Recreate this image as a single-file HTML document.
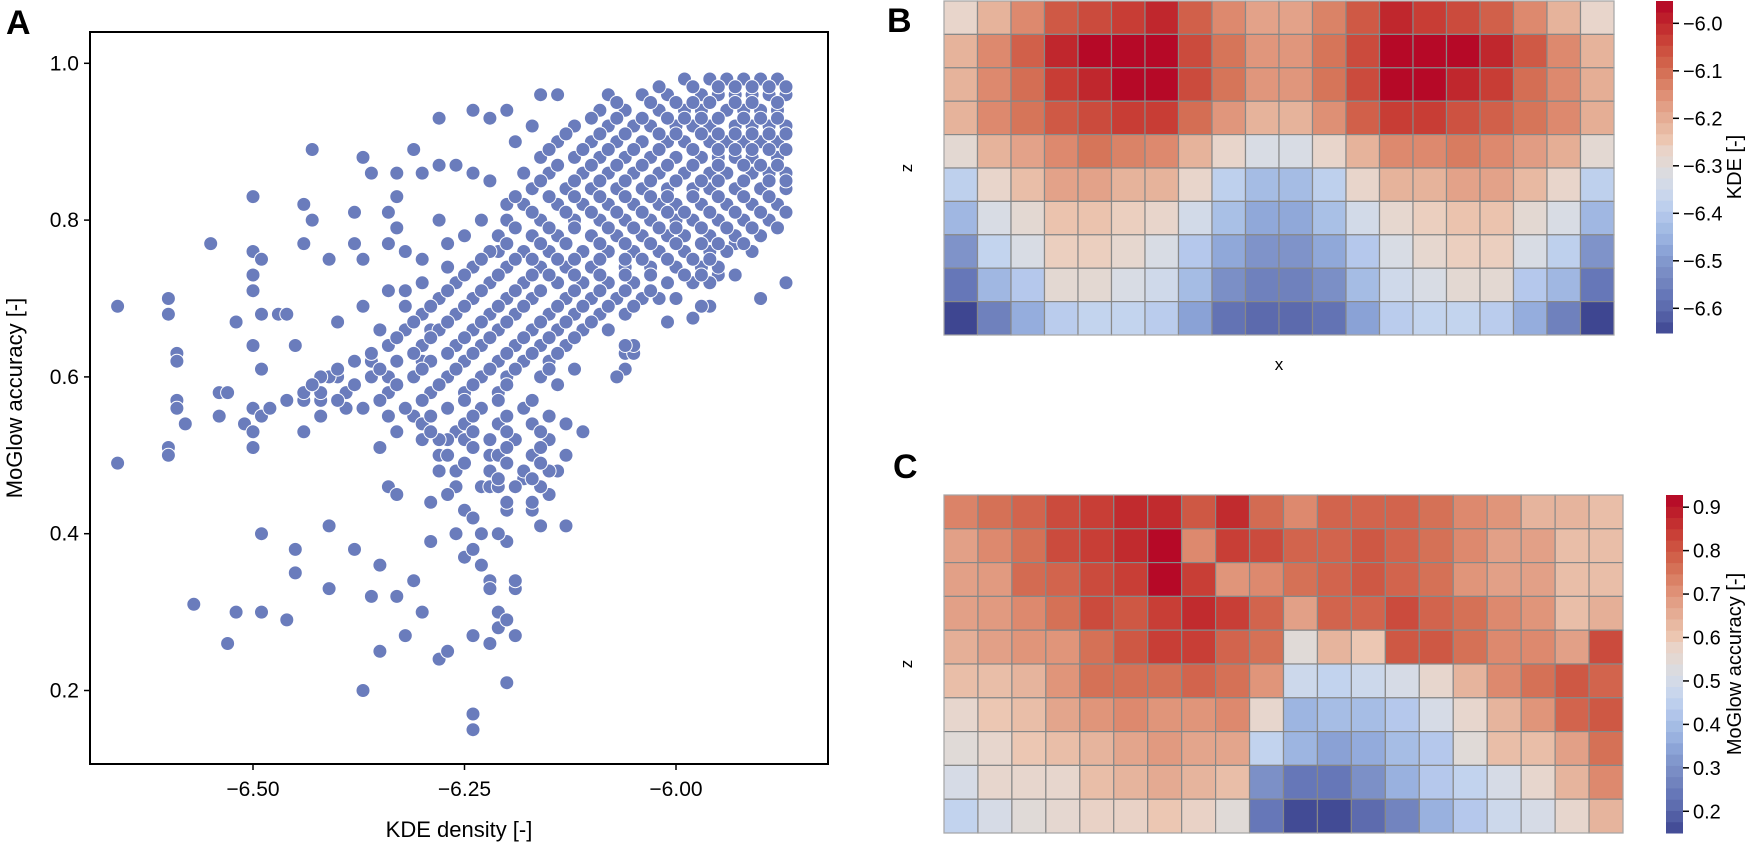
<!DOCTYPE html>
<html><head><meta charset="utf-8"><style>
html,body{margin:0;padding:0;background:#fff;}
svg{display:block;font-family:"Liberation Sans",Arial,sans-serif;}
</style></head><body>
<svg id="fig" width="1750" height="843" viewBox="0 0 1750 843" xmlns="http://www.w3.org/2000/svg">
<text x="6" y="34" font-size="34" font-weight="bold">A</text>
<text x="887" y="32" font-size="34" font-weight="bold">B</text>
<text x="893" y="478" font-size="34" font-weight="bold">C</text>
<g id="scatter"></g>
<g id="heatB"></g>
<g id="heatC"></g>
</svg>
<script>
// ---------- Scatter data ----------
const sparseKde=[-6.66,-6.66,-6.60,-6.60,-6.59,-6.59,-6.60,-6.60,-6.59,-6.59,-6.58,-6.57,-6.55,-6.54,-6.53,-6.54,-6.53,-6.52,-6.52,-6.51,-6.50,-6.50,-6.49,-6.50,-6.50,-6.49,-6.50,-6.49,-6.50,-6.49,-6.50,-6.50,-6.49,-6.49,-6.48,-6.47,-6.46,-6.46,-6.45,-6.45,-6.44,-6.44,-6.43,-6.43,-6.44,-6.45,-6.42,-6.42,-6.41,-6.41,-6.41,-6.40,-6.39,-6.39,-6.38,-6.38,-6.37,-6.37,-6.37,-6.36,-6.36,-6.38,-6.37,-6.35,-6.34,-6.33,-6.33,-6.33,-6.34,-6.32,-6.32,-6.34,-6.35,-6.35,-6.33,-6.32,-6.30,-6.31,-6.31,-6.30,-6.30,-6.31,-6.30,-6.28,-6.28,-6.28,-6.27,-6.29,-6.29,-6.28,-6.27,-6.26,-6.25,-6.25,-6.24,-6.24,-6.24,-6.23,-6.22,-6.22,-6.21,-6.21,-6.20,-6.20,-6.21,-6.19,-6.19,-6.19,-6.20,-6.22,-6.26,-6.23,-6.22,-6.26,-6.27,-6.29,-6.31,-6.33,-6.34,-6.35,-6.34,-6.33,
-6.14,-6.12,-6.11,-6.13,-6.14,-6.15,-6.17,-6.16,-6.13,-6.18,-6.19,-6.06,-6.06,-6.07,-6.26,-6.27,-6.24,-6.23,-6.21,-6.20,-6.24,-6.22,-6.25,-6.28,-6.30,-6.28,
-5.87,-5.90,-5.96,-5.97,-6.01,-5.95,-5.93,-5.93,-6.05,-6.05,-5.98,-6.00,
-6.24,-6.22,-6.20,-6.19,-6.16,-6.14,-6.17,-6.08,-6.10,-6.26,-6.24,-6.22,-6.18,-6.20,-6.23,-6.25,-6.27,-6.21,-6.24,-6.26,-6.28,-6.30,-6.32,-6.29,-6.35,-6.38,-6.40,-6.42,-6.44,-6.46,-6.41,-6.36,-6.34,-6.30];
const sparseAcc=[0.69,0.49,0.68,0.70,0.63,0.62,0.51,0.50,0.57,0.56,0.54,0.31,0.77,0.58,0.58,0.55,0.26,0.30,0.67,0.54,0.83,0.76,0.75,0.73,0.71,0.68,0.64,0.61,0.56,0.55,0.53,0.51,0.40,0.30,0.56,0.68,0.68,0.29,0.38,0.35,0.77,0.82,0.89,0.80,0.53,0.64,0.57,0.55,0.75,0.41,0.33,0.67,0.56,0.58,0.81,0.77,0.75,0.69,0.88,0.86,0.32,0.38,0.20,0.25,0.81,0.86,0.83,0.79,0.77,0.76,0.71,0.71,0.57,0.36,0.32,0.27,0.30,0.34,0.89,0.86,0.75,0.67,0.64,0.87,0.80,0.93,0.74,0.39,0.44,0.24,0.25,0.40,0.43,0.37,0.27,0.17,0.15,0.36,0.34,0.33,0.30,0.28,0.21,0.39,0.40,0.27,0.33,0.34,0.29,0.26,0.48,0.46,0.46,0.53,0.52,0.53,0.55,0.53,0.55,0.51,0.46,0.45,
0.59,0.61,0.53,0.50,0.48,0.45,0.43,0.41,0.41,0.47,0.52,0.63,0.61,0.60,0.46,0.45,0.42,0.40,0.46,0.43,0.38,0.50,0.52,0.50,0.52,0.48,
0.72,0.70,0.69,0.69,0.67,0.73,0.77,0.73,0.63,0.64,0.675,0.70,
0.94,0.93,0.94,0.90,0.96,0.96,0.92,0.96,0.93,0.87,0.86,0.85,0.86,0.82,0.80,0.78,0.77,0.76,0.74,0.72,0.70,0.72,0.69,0.66,0.66,0.62,0.60,0.58,0.57,0.57,0.60,0.62,0.60,0.62];
const denseAcc=[0.98,0.96,0.94,0.92,0.90,0.88,0.86,0.84,0.82,0.80,0.78,0.76,0.74,0.72,0.70,0.68,0.66,0.64,0.62,0.60,0.58,0.56,0.54,0.52,0.50,0.48,0.46,0.44];
const denseKde=[
[-5.99,-5.96,-5.94,-5.92,-5.90,-5.88],
[-6.04,-6.01,-5.97,-5.95,-5.93,-5.91,-5.89,-5.87],
[-6.09,-6.06,-6.02,-5.99,-5.97,-5.94,-5.92,-5.90,-5.88],
[-6.12,-6.08,-6.05,-6.03,-6.00,-5.98,-5.96,-5.93,-5.91,-5.89,-5.87],
[-6.14,-6.10,-6.07,-6.04,-6.01,-5.99,-5.96,-5.94,-5.92,-5.90,-5.88],
[-6.16,-6.12,-6.09,-6.06,-6.03,-6.00,-5.97,-5.95,-5.93,-5.91,-5.88],
[-6.15,-6.11,-6.08,-6.05,-6.02,-5.99,-5.96,-5.94,-5.91,-5.89,-5.87],
[-6.17,-6.13,-6.10,-6.07,-6.04,-6.01,-5.98,-5.96,-5.93,-5.90,-5.87],
[-6.18,-6.14,-6.11,-6.08,-6.05,-6.02,-6.00,-5.97,-5.94,-5.91,-5.88],
[-6.20,-6.16,-6.12,-6.09,-6.06,-6.03,-6.00,-5.98,-5.95,-5.92,-5.89],
[-6.21,-6.17,-6.14,-6.10,-6.07,-6.04,-6.01,-5.99,-5.96,-5.93,-5.90],
[-6.22,-6.18,-6.15,-6.11,-6.08,-6.05,-6.02,-5.99,-5.96,-5.94,-5.91],
[-6.24,-6.20,-6.16,-6.13,-6.10,-6.06,-6.03,-6.00,-5.97,-5.95],
[-6.26,-6.22,-6.18,-6.14,-6.11,-6.08,-6.05,-6.01,-5.98,-5.96],
[-6.28,-6.24,-6.20,-6.17,-6.13,-6.10,-6.07,-6.04,-6.02],
[-6.30,-6.26,-6.22,-6.19,-6.15,-6.12,-6.09,-6.06],
[-6.32,-6.28,-6.24,-6.21,-6.17,-6.14,-6.11,-6.08],
[-6.34,-6.30,-6.26,-6.23,-6.19,-6.16,-6.13,-6.06],
[-6.38,-6.33,-6.29,-6.25,-6.21,-6.18,-6.15],
[-6.42,-6.36,-6.31,-6.27,-6.23,-6.20,-6.16],
[-6.44,-6.39,-6.34,-6.29,-6.25,-6.21],
[-6.37,-6.32,-6.27,-6.23,-6.18],
[-6.30,-6.25,-6.21,-6.17,-6.13],
[-6.28,-6.22,-6.19,-6.15],
[-6.27,-6.21,-6.17,-6.13],
[-6.22,-6.18,-6.15],
[-6.19,-6.16],
[-6.20,-6.17]];
const fillAcc=[0.97,0.95,0.93,0.91,0.89,0.87,0.85,0.83,0.81,0.79,0.77,0.75,0.73,0.71,0.69,0.67,0.65,0.63,0.61,0.59,0.57,0.55,0.53,0.51,0.49,0.47];
const fillKde=[
[-6.02,-5.98,-5.95,-5.93,-5.91,-5.89,-5.87],
[-6.07,-6.03,-6.00,-5.98,-5.96,-5.93,-5.91,-5.88],
[-6.10,-6.07,-6.04,-6.01,-5.99,-5.97,-5.95,-5.92,-5.90,-5.88],
[-6.13,-6.09,-6.06,-6.02,-6.00,-5.97,-5.95,-5.93,-5.91,-5.89,-5.87],
[-6.15,-6.11,-6.08,-6.05,-6.02,-5.98,-5.95,-5.93,-5.91,-5.89,-5.87],
[-6.14,-6.10,-6.07,-6.04,-6.01,-5.98,-5.95,-5.92,-5.90,-5.88],
[-6.16,-6.12,-6.09,-6.06,-6.03,-6.00,-5.97,-5.95,-5.92,-5.89,-5.87],
[-6.19,-6.15,-6.12,-6.09,-6.06,-6.03,-6.01,-5.98,-5.95,-5.92,-5.89],
[-6.17,-6.13,-6.10,-6.07,-6.04,-6.01,-5.99,-5.96,-5.93,-5.90,-5.87],
[-6.19,-6.15,-6.12,-6.08,-6.05,-6.02,-6.00,-5.97,-5.94,-5.91,-5.88],
[-6.20,-6.16,-6.13,-6.09,-6.06,-6.03,-6.00,-5.97,-5.95,-5.92],
[-6.23,-6.19,-6.17,-6.14,-6.12,-6.09,-6.06,-6.04,-6.01,-5.98,-5.96],
[-6.25,-6.21,-6.17,-6.15,-6.12,-6.09,-6.06,-6.03,-5.99,-5.97],
[-6.27,-6.23,-6.19,-6.16,-6.12,-6.09,-6.06,-6.03],
[-6.29,-6.25,-6.21,-6.18,-6.14,-6.11,-6.08,-6.05],
[-6.31,-6.27,-6.23,-6.20,-6.16,-6.13,-6.10],
[-6.33,-6.29,-6.25,-6.22,-6.18,-6.15,-6.12],
[-6.36,-6.31,-6.27,-6.24,-6.20,-6.17,-6.14],
[-6.40,-6.35,-6.30,-6.26,-6.22,-6.19,-6.15],
[-6.43,-6.38,-6.33,-6.28,-6.24,-6.20],
[-6.40,-6.35,-6.30,-6.25,-6.21,-6.17],
[-6.34,-6.29,-6.24,-6.20,-6.15],
[-6.29,-6.24,-6.20,-6.16],
[-6.24,-6.20,-6.16],
[-6.25,-6.20,-6.16],
[-6.21,-6.17]];
const xTicksA=[-6.50,-6.25,-6.00];
const xTickLabelsA=["−6.50","−6.25","−6.00"];
const yTicksA=[0.2,0.4,0.6,0.8,1.0];
const yTickLabelsA=["0.2","0.4","0.6","0.8","1.0"];

// ---------- Heatmap data ----------
const kdeGrid=[
[-6.27,-6.21,-6.14,-6.07,-6.05,-6.03,-6.00,-6.08,-6.14,-6.18,-6.18,-6.13,-6.07,-6.00,-6.03,-6.05,-6.08,-6.14,-6.21,-6.27],
[-6.21,-6.14,-6.08,-6.00,-5.96,-5.96,-5.96,-6.05,-6.11,-6.16,-6.16,-6.11,-6.05,-5.96,-5.96,-5.96,-6.00,-6.07,-6.14,-6.21],
[-6.21,-6.14,-6.10,-6.03,-6.00,-5.96,-5.96,-6.05,-6.11,-6.16,-6.16,-6.11,-6.05,-5.96,-5.96,-6.00,-6.03,-6.10,-6.14,-6.20],
[-6.21,-6.14,-6.11,-6.07,-6.05,-6.03,-6.03,-6.10,-6.16,-6.21,-6.21,-6.15,-6.08,-6.03,-6.03,-6.06,-6.08,-6.11,-6.14,-6.20],
[-6.29,-6.21,-6.18,-6.14,-6.11,-6.13,-6.14,-6.21,-6.27,-6.32,-6.32,-6.27,-6.21,-6.14,-6.14,-6.12,-6.14,-6.17,-6.20,-6.29],
[-6.38,-6.27,-6.23,-6.18,-6.18,-6.21,-6.21,-6.27,-6.38,-6.43,-6.43,-6.38,-6.27,-6.21,-6.21,-6.18,-6.18,-6.22,-6.27,-6.38],
[-6.44,-6.32,-6.29,-6.24,-6.24,-6.26,-6.27,-6.34,-6.42,-6.47,-6.47,-6.42,-6.34,-6.28,-6.26,-6.24,-6.24,-6.29,-6.32,-6.44],
[-6.51,-6.37,-6.32,-6.26,-6.26,-6.28,-6.32,-6.40,-6.47,-6.51,-6.51,-6.47,-6.40,-6.32,-6.28,-6.26,-6.26,-6.32,-6.38,-6.51],
[-6.57,-6.44,-6.40,-6.29,-6.29,-6.32,-6.35,-6.43,-6.52,-6.55,-6.55,-6.52,-6.43,-6.35,-6.32,-6.29,-6.29,-6.40,-6.44,-6.57],
[-6.65,-6.55,-6.46,-6.39,-6.37,-6.37,-6.39,-6.48,-6.58,-6.60,-6.60,-6.58,-6.48,-6.39,-6.37,-6.37,-6.39,-6.46,-6.55,-6.65]];
const accGrid=[
[0.73,0.76,0.78,0.82,0.84,0.87,0.87,0.80,0.87,0.77,0.72,0.78,0.78,0.78,0.76,0.72,0.70,0.64,0.64,0.62],
[0.68,0.72,0.76,0.82,0.84,0.87,0.92,0.72,0.84,0.82,0.78,0.78,0.80,0.78,0.76,0.72,0.68,0.68,0.62,0.62],
[0.68,0.69,0.77,0.78,0.82,0.84,0.92,0.84,0.70,0.72,0.76,0.78,0.80,0.78,0.76,0.70,0.68,0.68,0.62,0.62],
[0.68,0.69,0.72,0.76,0.82,0.80,0.84,0.87,0.84,0.78,0.68,0.78,0.78,0.82,0.78,0.76,0.72,0.70,0.62,0.65],
[0.65,0.68,0.70,0.70,0.76,0.80,0.84,0.84,0.78,0.76,0.54,0.64,0.60,0.80,0.80,0.76,0.72,0.72,0.68,0.82],
[0.62,0.62,0.64,0.70,0.76,0.76,0.76,0.78,0.76,0.70,0.48,0.46,0.48,0.51,0.57,0.64,0.72,0.76,0.80,0.78],
[0.57,0.60,0.62,0.67,0.70,0.72,0.70,0.70,0.72,0.57,0.38,0.40,0.40,0.43,0.51,0.57,0.64,0.70,0.78,0.80],
[0.54,0.57,0.60,0.62,0.64,0.67,0.69,0.67,0.67,0.46,0.38,0.34,0.36,0.40,0.43,0.54,0.62,0.62,0.68,0.76],
[0.51,0.57,0.57,0.57,0.62,0.64,0.66,0.64,0.62,0.30,0.24,0.24,0.30,0.37,0.43,0.46,0.51,0.57,0.64,0.72],
[0.46,0.51,0.54,0.56,0.58,0.58,0.60,0.58,0.54,0.24,0.16,0.16,0.21,0.27,0.37,0.43,0.48,0.51,0.57,0.64]];
const kdeTicks=[-6.0,-6.1,-6.2,-6.3,-6.4,-6.5,-6.6];
const kdeTickLabels=["−6.0","−6.1","−6.2","−6.3","−6.4","−6.5","−6.6"];
const accTicks=[0.9,0.8,0.7,0.6,0.5,0.4,0.3,0.2];
const accTickLabels=["0.9","0.8","0.7","0.6","0.5","0.4","0.3","0.2"];

const NS="http://www.w3.org/2000/svg";
function mk(tag,attrs,parent){const e=document.createElementNS(NS,tag);for(const k in attrs)e.setAttribute(k,attrs[k]);parent.appendChild(e);return e;}

const pal=[[0,"#3d4590"],[.074,"#5c6aad"],[.117,"#6677b8"],[.16,"#7486c0"],[.203,"#7f93c9"],[.246,"#8aa2d6"],[.289,"#9bb3e0"],[.331,"#a9c0e6"],[.36,"#b5c8ec"],[.403,"#c3d4ee"],[.431,"#cfd9ea"],[.474,"#d8dce4"],[.503,"#e1dad6"],[.546,"#e8d5cb"],[.574,"#edc9b5"],[.631,"#e6b49c"],[.674,"#e3a38a"],[.731,"#dd8a6f"],[.774,"#d6765a"],[.831,"#cf5a45"],[.889,"#c83d35"],[.931,"#c0282d"],[1,"#b40426"]];
function hx(c){return [1,3,5].map(i=>parseInt(c.substr(i,2),16));}
function cmap(t){t=Math.max(0,Math.min(1,t));for(let i=1;i<pal.length;i++){if(t<=pal[i][0]){const a=pal[i-1],b=pal[i];const f=(t-a[0])/(b[0]-a[0]);const ca=hx(a[1]),cb=hx(b[1]);return "rgb("+ca.map((v,j)=>Math.round(v+(cb[j]-v)*f)).join(",")+")";}}return pal[pal.length-1][1];}

// ---------- Scatter ----------
(function(){
const g=document.getElementById('scatter');
const L=90,T=32,R=828,B=764;
const xS=v=>253+(v+6.5)*846;
const yS=v=>63.3+(1.0-v)*784;
const clip=mk('clipPath',{id:'clipA'},g);mk('rect',{x:L,y:T,width:R-L,height:B-T},clip);
const pts=mk('g',{'clip-path':'url(#clipA)'},g);


function dot(x,y){const c=mk('circle',{cx:xS(x).toFixed(1),cy:yS(y).toFixed(1),r:7,fill:'#6a7cbc',stroke:'#fff','stroke-width':1},pts);

}
for(let i=0;i<sparseKde.length;i++)dot(sparseKde[i],sparseAcc[i]);
for(let r=0;r<denseAcc.length;r++)for(const x of denseKde[r])dot(x,denseAcc[r]);
for(let r=0;r<fillAcc.length;r++)for(const x of fillKde[r])dot(x,fillAcc[r]);
const fr=mk('rect',{x:L,y:T,width:R-L,height:B-T,fill:'none',stroke:'#000','stroke-width':2},g);


xTicksA.forEach((v,i)=>{const x=xS(v);mk('line',{x1:x,y1:B,x2:x,y2:B+6,stroke:'#000','stroke-width':1.5},g);
const t=mk('text',{x:x,y:B+32,'font-size':21,'text-anchor':'middle'},g);t.textContent=xTickLabelsA[i];

});
yTicksA.forEach((v,i)=>{const y=yS(v);mk('line',{x1:L-6,y1:y,x2:L,y2:y,stroke:'#000','stroke-width':1.5},g);
const t=mk('text',{x:L-11,y:y+7,'font-size':21,'text-anchor':'end'},g);t.textContent=yTickLabelsA[i];

});
const xl=mk('text',{x:459,y:837,'font-size':22,'text-anchor':'middle'},g);xl.textContent='KDE density [-]';


const yl=mk('text',{x:0,y:0,'font-size':22,'text-anchor':'middle',transform:'translate(22,398) rotate(-90)'},g);yl.textContent='MoGlow accuracy [-]';


})();

// ---------- Heatmaps ----------
function heat(gid,grid,L,T,W,H,vmin,vmax,cb,ticks,labels,cbTitle,showX,name){
const g=document.getElementById(gid);
const nr=grid.length,nc=grid[0].length,cw=W/nc,ch=H/nr;
grid.forEach((row,r)=>row.forEach((v,c)=>{const e=mk('rect',{x:L+c*cw,y:T+r*ch,width:cw,height:ch,fill:cmap((v-vmin)/(vmax-vmin)),stroke:'#888','stroke-width':1.2},g);

}));
mk('rect',{x:L,y:T,width:W,height:H,fill:'none',stroke:'#aaa','stroke-width':1},g);
const z=mk('text',{x:0,y:0,'font-size':17,'text-anchor':'middle',transform:'translate('+(L-32)+','+(T+H/2)+') rotate(-90)'},g);z.textContent='z';


if(showX){const xt=mk('text',{x:L+W/2,y:T+H+35,'font-size':17,'text-anchor':'middle'},g);xt.textContent='x';

}
const n=30;const cbg=mk('g',{},g);


for(let i=0;i<n;i++){mk('rect',{x:cb.x,y:cb.y+cb.h*(1-(i+1)/n),width:cb.w,height:cb.h/n+0.5,fill:cmap((i+0.5)/n)},cbg);}
const yv=v=>cb.y+cb.h*(1-(v-vmin)/(vmax-vmin));
ticks.forEach((v,i)=>{const y=yv(v);mk('line',{x1:cb.x+cb.w,y1:y,x2:cb.x+cb.w+6,y2:y,stroke:'#000','stroke-width':1.5},cbg);
const t=mk('text',{x:cb.x+cb.w+10,y:y+7,'font-size':20},cbg);t.textContent=labels[i];

});
const tt=mk('text',{x:0,y:0,'font-size':20,'text-anchor':'middle',transform:'translate(1741,'+(cb.y+cb.h/2)+') rotate(-90)'},cbg);tt.textContent=cbTitle;


}
heat('heatB',kdeGrid,944,1,670,334,-6.652,-5.953,{x:1656,y:1,w:17,h:332},kdeTicks,kdeTickLabels,'KDE [-]',true,'kde');
heat('heatC',accGrid,944,495,679,338,0.15,0.928,{x:1666,y:495,w:17,h:338},accTicks,accTickLabels,'MoGlow accuracy [-]',false,'accuracy');
</script>
</body></html>
